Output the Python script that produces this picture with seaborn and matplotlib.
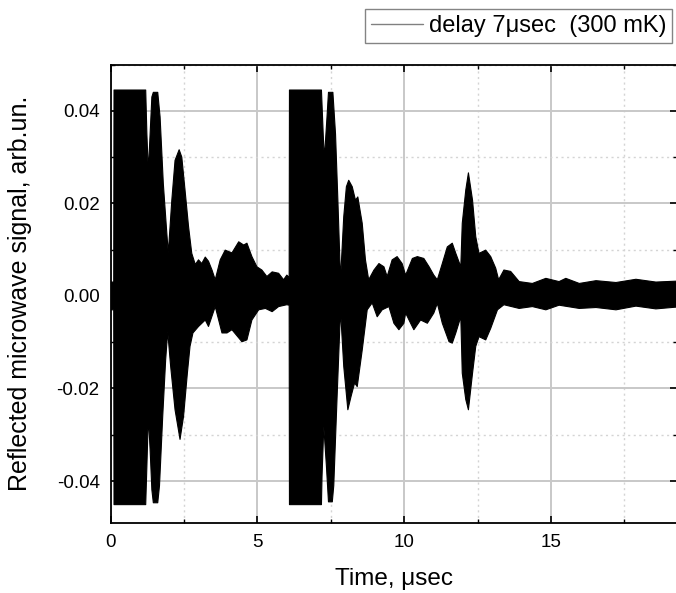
import numpy as np
import pandas as pd
import matplotlib
matplotlib.use("Agg")
import matplotlib.pyplot as plt
from matplotlib.ticker import MultipleLocator
import seaborn as sns

# Envelope of the reflected signal (upper and lower edges), time in microseconds
t_upper = [0.00, 0.10, 0.11, 1.19, 1.23, 1.28, 1.34, 1.40, 1.45, 1.60, 1.68, 1.79,
           1.91, 1.96, 2.08, 2.19, 2.33, 2.42, 2.53, 2.65, 2.76, 2.88, 2.99, 3.10,
           3.22, 3.33, 3.45, 3.56, 3.73, 3.90, 4.13, 4.36, 4.53, 4.64, 4.81, 4.98,
           5.15, 5.32, 5.50, 5.72, 5.89, 6.00, 6.08, 6.09, 7.18, 7.24, 7.28, 7.37,
           7.42, 7.57, 7.66, 7.74, 7.83, 7.94, 8.03, 8.11, 8.23, 8.34, 8.42, 8.57,
           8.68, 8.79, 8.97, 9.14, 9.31, 9.42, 9.59, 9.76, 9.93, 10.05, 10.28, 10.45,
           10.67, 10.85, 11.01, 11.13, 11.30, 11.47, 11.64, 11.76, 11.93, 11.98, 12.10,
           12.19, 12.33, 12.44, 12.55, 12.78, 12.95, 13.12, 13.22, 13.40, 13.63, 13.92,
           14.37, 14.83, 15.28, 15.51, 15.97, 16.54, 17.22, 17.90, 18.58, 19.30]
v_upper = [0.0030, 0.0030, 0.0445, 0.0445, 0.0350, 0.0270, 0.0350, 0.0430, 0.0440, 0.0440, 0.0387, 0.0243,
           0.0135, 0.0093, 0.0207, 0.0293, 0.0316, 0.0300, 0.0229, 0.0150, 0.0092, 0.0068, 0.0078, 0.0070,
           0.0084, 0.0075, 0.0056, 0.0035, 0.0078, 0.0099, 0.0093, 0.0117, 0.0110, 0.0114, 0.0085, 0.0063,
           0.0056, 0.0042, 0.0052, 0.0049, 0.0035, 0.0045, 0.0040, 0.0445, 0.0445, 0.0350, 0.0297, 0.0387,
           0.0440, 0.0440, 0.0350, 0.0207, 0.0035, 0.0171, 0.0236, 0.0250, 0.0236, 0.0207, 0.0214, 0.0157,
           0.0078, 0.0035, 0.0056, 0.0070, 0.0063, 0.0042, 0.0078, 0.0085, 0.0070, 0.0045, 0.0081, 0.0085,
           0.0081, 0.0063, 0.0045, 0.0035, 0.0070, 0.0106, 0.0114, 0.0092, 0.0063, 0.0157, 0.0229,
           0.0266, 0.0207, 0.0128, 0.0092, 0.0099, 0.0085, 0.0060, 0.0035, 0.0056, 0.0053, 0.0031,
           0.0027, 0.0038, 0.0031, 0.0038, 0.0027, 0.0033, 0.0029, 0.0036, 0.0030, 0.0032]

t_lower = [0.00, 0.10, 0.11, 1.19, 1.23, 1.28, 1.34, 1.40, 1.45, 1.60, 1.66, 1.77,
           1.87, 1.94, 2.04, 2.19, 2.36, 2.48, 2.61, 2.70, 2.80, 2.99, 3.22, 3.33,
           3.56, 3.79, 3.96, 4.13, 4.47, 4.64, 4.81, 5.04, 5.27, 5.50, 5.72, 6.00,
           6.08, 6.09, 7.18, 7.20, 7.26, 7.35, 7.42, 7.55, 7.60, 7.71, 7.83, 7.94,
           8.08, 8.19, 8.31, 8.40, 8.57, 8.74, 8.91, 9.08, 9.25, 9.48, 9.65, 9.82,
           9.99, 10.05, 10.22, 10.33, 10.56, 10.79, 11.01, 11.13, 11.30, 11.53, 11.64,
           11.76, 11.93, 11.98, 12.10, 12.19, 12.33, 12.44, 12.55, 12.78, 12.95, 13.18,
           13.40, 13.92, 14.37, 14.83, 15.28, 15.97, 16.54, 17.22, 17.90, 18.58, 19.30]
v_lower = [-0.0030, -0.0030, -0.0451, -0.0451, -0.0368, -0.0260, -0.0332, -0.0419, -0.0447, -0.0447, -0.0410, -0.0260,
           -0.0138, -0.0077, -0.0152, -0.0246, -0.0310, -0.0260, -0.0167, -0.0109, -0.0080, -0.0066, -0.0052, -0.0066,
           -0.0023, -0.0080, -0.0080, -0.0073, -0.0099, -0.0095, -0.0052, -0.0030, -0.0027, -0.0034, -0.0023, -0.0019,
           -0.0020, -0.0451, -0.0451, -0.0390, -0.0282, -0.0368, -0.0445, -0.0445, -0.0410, -0.0224, -0.0030, -0.0152,
           -0.0246, -0.0217, -0.0188, -0.0196, -0.0117, -0.0030, -0.0015, -0.0045, -0.0030, -0.0023, -0.0059, -0.0073,
           -0.0059, -0.0037, -0.0059, -0.0073, -0.0052, -0.0059, -0.0037, -0.0016, -0.0059, -0.0099, -0.0102,
           -0.0080, -0.0045, -0.0167, -0.0224, -0.0246, -0.0167, -0.0109, -0.0088, -0.0095, -0.0070, -0.0030,
           -0.0019, -0.0027, -0.0023, -0.0030, -0.0020, -0.0027, -0.0025, -0.0030, -0.0022, -0.0028, -0.0024]

x_ticks = [0, 5, 10, 15]
y_ticks = [-0.04, -0.02, 0.00, 0.02, 0.04]
y_tick_labels = ["-0.04", "-0.02", "0.00", "0.02", "0.04"]
series_label = "delay 7\u03bcsec  (300 mK)"

sns.set_theme(style="white")
plt.rcParams["font.family"] = ["Liberation Sans", "DejaVu Sans"]
plt.rcParams["text.color"] = "black"
plt.rcParams["axes.labelcolor"] = "black"

fig = plt.figure(figsize=(6.76, 5.93), dpi=100)
ax = fig.add_axes([0.1639, 0.1186, 0.8376, 0.7725])

env = pd.concat([
    pd.DataFrame({"t": t_upper, "v": v_upper, "edge": "upper"}),
    pd.DataFrame({"t": t_lower, "v": v_lower, "edge": "lower"}),
])

# Filled band of the fast oscillation
poly_t = np.r_[t_upper, t_lower[::-1]]
poly_v = np.r_[v_upper, v_lower[::-1]]
ax.fill(poly_t, poly_v, color="black", lw=0, zorder=2)

sns.lineplot(data=env[env.edge == "upper"], x="t", y="v", estimator=None, sort=False,
             color="black", lw=0.8, ax=ax, label=series_label, zorder=3)
sns.lineplot(data=env[env.edge == "lower"], x="t", y="v", estimator=None, sort=False,
             color="black", lw=0.8, ax=ax, legend=False, zorder=3)

ax.set_xlim(0, 19.3)
ax.set_ylim(-0.049, 0.05)
ax.set_xticks(x_ticks)
ax.set_xticklabels([str(v) for v in x_ticks])
ax.set_yticks(y_ticks)
ax.set_yticklabels(y_tick_labels)
ax.xaxis.set_minor_locator(MultipleLocator(2.5))
ax.yaxis.set_minor_locator(MultipleLocator(0.01))

ax.grid(which="major", color="#c8c8c8", lw=1.4, ls="-", zorder=0)
ax.grid(which="minor", color="#d4d4d4", lw=1.0, ls=(0, (1.5, 2.5)), zorder=0)
ax.set_axisbelow(True)

for s in ax.spines.values():
    s.set_color("black")
    s.set_linewidth(1.3)

ax.tick_params(which="both", direction="in", top=True, right=True, bottom=True, left=True,
               colors="black", labelcolor="black", labelsize=13.5)
ax.tick_params(which="major", length=5, width=1.2, pad=8)
ax.tick_params(which="minor", length=3, width=1.0)

ax.set_xlabel("Time, \u03bcsec", fontsize=17.5, color="black")
ax.set_ylabel("Reflected microwave signal, arb.un.", fontsize=18, color="black")
ax.xaxis.set_label_coords(0.5, -0.1)
ax.yaxis.set_label_coords(-0.14, 0.5)

leg = ax.legend(loc="upper right", bbox_to_anchor=(672 / 676, 584 / 593), bbox_transform=fig.transFigure,
                frameon=True, fancybox=False, fontsize=17, handlelength=2.2, handletextpad=0.25,
                borderpad=0.25, borderaxespad=0)
leg.get_frame().set_edgecolor("#666666")
leg.get_frame().set_linewidth(1.0)
for txt in leg.get_texts():
    txt.set_color("black")
for h in leg.get_lines():
    h.set_color("#808080")
    h.set_linewidth(1.0)

fig.savefig("out.png", dpi=100)
